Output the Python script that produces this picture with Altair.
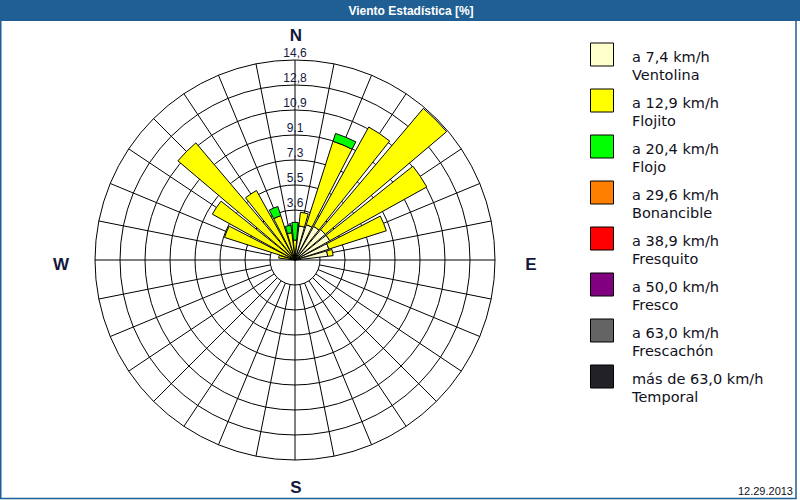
import altair as alt
import pandas as pd
import numpy as np

# ---------------- data ----------------
n_dirs = 32
dir_step = 11.25
classes = ["Ventolina", "Flojito", "Flojo", "Bonancible", "Fresquito", "Fresco", "Frescachón", "Temporal"]
speed_labels = ["a 7,4 km/h", "a 12,9 km/h", "a 20,4 km/h", "a 29,6 km/h",
                "a 38,9 km/h", "a 50,0 km/h", "a 63,0 km/h", "más de 63,0 km/h"]
colors = ["#FFFFCC", "#FFFF00", "#00FF00", "#FF8000", "#FF0000", "#800080", "#646464", "#222226"]

# percentage per direction (N, then clockwise in 11.25 degree steps)
ventolina = [0.2, 2.5, 2.7, 2.8, 2.9, 2.9, 2.6, 2.4, 0.0, 0.0, 0.0, 0.0, 0.0, 0.0, 0.0, 0.0,
             0.0, 0.0, 0.0, 0.0, 0.0, 0.0, 0.0, 0.0, 0.0, 0.0, 0.0, 0.0, 0.0, 0.0, 0.0, 0.2]
flojito = [1.25, 1.0, 6.4, 8.3, 11.6, 8.1, 4.4, 0.4, 0.0, 0.0, 0.0, 0.0, 0.0, 0.0, 0.0, 0.0,
           0.0, 0.0, 0.0, 0.0, 0.0, 0.0, 0.0, 0.0, 0.0, 1.2, 5.4, 6.9, 11.2, 5.8, 3.4, 1.8]
flojo = [1.3, 0.0, 0.6, 0.0, 0.0, 0.0, 0.0, 0.0, 0.0, 0.0, 0.0, 0.0, 0.0, 0.0, 0.0, 0.0,
         0.0, 0.0, 0.0, 0.0, 0.0, 0.0, 0.0, 0.0, 0.0, 0.0, 0.0, 0.0, 0.0, 0.0, 0.7, 0.55]

ring_values = [1.825 * k for k in range(1, 9)]
ring_labels = ["1,8", "3,6", "5,5", "7,3", "9,1", "10,9", "12,8", "14,6"]
compass = ["N", "E", "S", "W"]
title_text = "Viento Estadística [%]"
date_text = "12.29.2013"

# ---------------- geometry ----------------
cx, cy, R = 295, 260, 200
rmax = 14.6
half_width = 4.75
FONT = "Liberation Sans"
NAVY = "#14183c"
BLUE = "#1f5f94"

xs = alt.Scale(domain=[-rmax, rmax], range=[cx - R, cx + R])
ys = alt.Scale(domain=[-rmax, rmax], range=[cy + R, cy - R])
rs = alt.Scale(type="linear", domain=[0, rmax], range=[0, R])
ts = alt.Scale(domain=[0, 360], range=[0, 2 * np.pi])

# wedge table
rows = []
for i in range(n_dirs):
    a = i * dir_step
    base = 0.0
    for cls, series in zip(classes[:3], [ventolina, flojito, flojo]):
        v = series[i]
        if v > 0:
            rows.append({"t0": a - half_width, "t1": a + half_width,
                         "r0": base, "r1": base + v, "cls": cls})
            base += v
wedges = pd.DataFrame(rows)

rings = pd.DataFrame({"r": ring_values, "lab": ring_labels, "t0": 0, "t1": 360})

spokes = []
for i in range(n_dirs):
    a = np.radians(i * dir_step)
    r0 = 0.0 if i % 8 == 0 else ring_values[0]
    spokes.append({"x0": r0 * np.sin(a), "y0": r0 * np.cos(a),
                   "x1": rmax * np.sin(a), "y1": rmax * np.cos(a)})
spokes = pd.DataFrame(spokes)

comp = pd.DataFrame({"lab": compass,
                     "x": [0.07, 17.23, 0.07, -17.08],
                     "y": [16.35, -0.36, -16.64, -0.36]})

legend = pd.DataFrame({"lab": speed_labels, "name": classes, "cls": classes})

one = pd.DataFrame({"k": [0]})

base_arc = dict(x=alt.value(cx), y=alt.value(cy))

grid_rings = alt.Chart(rings).mark_arc(filled=False, stroke="black", strokeWidth=1).encode(
    theta=alt.Theta("t0:Q", scale=ts, stack=None), theta2="t1:Q",
    radius=alt.Radius("r:Q", scale=rs), **base_arc)

grid_spokes = alt.Chart(spokes).mark_rule(color="black", strokeWidth=1).encode(
    x=alt.X("x0:Q", scale=xs, axis=None), y=alt.Y("y0:Q", scale=ys, axis=None),
    x2="x1:Q", y2="y1:Q")

ring_text = alt.Chart(rings).mark_text(font=FONT, fontSize=12, color=NAVY, dy=-7).encode(
    x=alt.value(cx), y=alt.Y("r:Q", scale=ys, axis=None), text="lab:N")

bars = alt.Chart(wedges).mark_arc(stroke="black", strokeWidth=1).encode(
    theta=alt.Theta("t0:Q", scale=ts, stack=None), theta2="t1:Q",
    radius=alt.Radius("r1:Q", scale=rs), radius2="r0:Q",
    color=alt.Color("cls:N", scale=alt.Scale(domain=classes, range=colors), legend=None),
    **base_arc)

comp_text = alt.Chart(comp).mark_text(font=FONT, fontSize=17, fontWeight="bold", color=NAVY).encode(
    x=alt.X("x:Q", scale=xs, axis=None), y=alt.Y("y:Q", scale=ys, axis=None), text="lab:N")

ly = alt.Scale(type="point", domain=speed_labels, range=[54.5, 376.5], padding=0)
leg_sq = alt.Chart(legend).mark_square(size=529, stroke="black", strokeWidth=1, opacity=1).encode(
    x=alt.value(602), y=alt.Y("lab:N", scale=ly, axis=None),
    color=alt.Color("cls:N", scale=alt.Scale(domain=classes, range=colors), legend=None))
leg_t1 = alt.Chart(legend).mark_text(font="DejaVu Sans", fontSize=14.5, align="left",
                                     baseline="alphabetic", dy=7, color="#101020").encode(
    x=alt.value(632), y=alt.Y("lab:N", scale=ly, axis=None), text="lab:N")
leg_t2 = alt.Chart(legend).mark_text(font="DejaVu Sans", fontSize=14.5, align="left",
                                     baseline="alphabetic", dy=25, color="#101020").encode(
    x=alt.value(632), y=alt.Y("lab:N", scale=ly, axis=None), text="name:N")

title_bar = alt.Chart(one).mark_rect(color=BLUE).encode(
    x=alt.value(0), x2=alt.value(800), y=alt.value(0), y2=alt.value(21))
title = alt.Chart(one).mark_text(font=FONT, fontSize=12, fontWeight="bold", color="white").encode(
    x=alt.value(411), y=alt.value(11), text=alt.value(title_text))
frame = alt.Chart(one).mark_rect(filled=False, stroke=BLUE, strokeWidth=1.5).encode(
    x=alt.value(0.75), x2=alt.value(796), y=alt.value(20), y2=alt.value(498.5))
date = alt.Chart(one).mark_text(font=FONT, fontSize=11, align="right", color="#101020").encode(
    x=alt.value(793), y=alt.value(492), text=alt.value(date_text))

chart = alt.layer(
    title_bar, frame, grid_rings, grid_spokes, ring_text, bars, comp_text,
    leg_sq, leg_t1, leg_t2, title, date
).resolve_scale(
    x="independent", y="independent", color="independent",
    theta="independent", radius="independent"
).properties(
    width=800, height=500, padding=0, autosize=alt.AutoSizeParams(type="none"),
    background="white"
).configure_view(stroke=None)

chart.save("out.html", embed_options={"renderer": "svg", "actions": False})
